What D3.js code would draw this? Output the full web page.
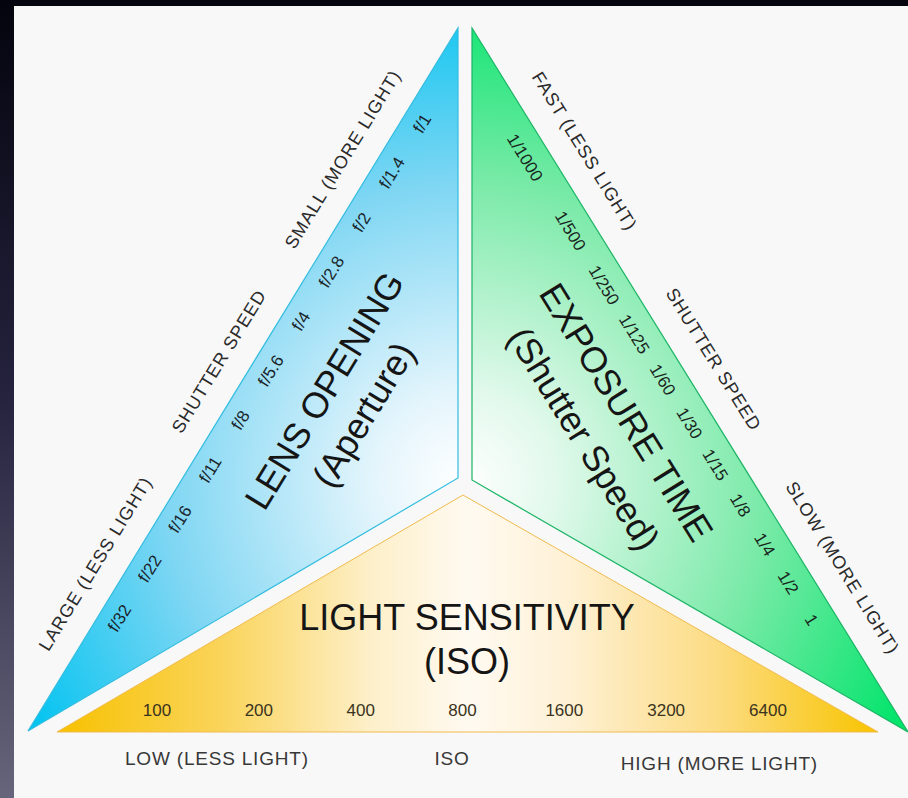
<!DOCTYPE html>
<html>
<head>
<meta charset="utf-8">
<script src="https://cdn.jsdelivr.net/npm/d3@7"></script>
<style>
  html, body { margin: 0; padding: 0; background: #000; }
  .chart { width: 908px; height: 798px; }
  text { font-family: "Liberation Sans", Arial, sans-serif; }
</style>
</head>
<body>
<div class="chart"></div>
<script>
//the three scales of the triangle
const apertureStops = ["f/32", "f/22", "f/16", "f/11", "f/8", "f/5.6", "f/4", "f/2.8", "f/2", "f/1.4", "f/1"];
const shutterStops = ["1/1000", "1/500", "1/250", "1/125", "1/60", "1/30", "1/15", "1/8", "1/4", "1/2", "1"];
const isoStops = ["100", "200", "400", "800", "1600", "3200", "6400"];

//labels that run along the outside of each side
const apertureEdge = ["LARGE (LESS LIGHT)", "SHUTTER SPEED", "SMALL (MORE LIGHT)"];
const shutterEdge = ["FAST (LESS LIGHT)", "SHUTTER SPEED", "SLOW (MORE LIGHT)"];
const isoEdge = ["LOW (LESS LIGHT)", "ISO", "HIGH (MORE LIGHT)"];

//big titles, two lines each
const apertureTitle = ["LENS OPENING", "(Aperture)"];
const shutterTitle = ["EXPOSURE TIME", "(Shutter Speed)"];
const isoTitle = ["LIGHT SENSITIVITY", "(ISO)"];


let chart = {};

init();

function init() {
    setDimensions();
    setScales();
    appendElements();
}


function setDimensions() {
    chart.width = 908;
    chart.height = 798;

    //corners of the three pieces (layout only)
    chart.geom = {
        blue: [[28, 731], [458, 28], [458, 478]],
        green: [[472, 28], [908, 732], [472, 480]],
        yellow: [[57, 732], [463, 495], [878, 732]],
        center: [464, 482]
    };

    //the outer edges we write text along
    chart.blueEdge = edge([28, 731], [458, 28]);
    chart.greenEdge = edge([472, 28], [908, 732]);
}

//unit vector, outward normal and angle for a side
function edge(a, b) {
    let dx = b[0] - a[0], dy = b[1] - a[1];
    let len = Math.hypot(dx, dy);
    let u = [dx / len, dy / len];
    return {
        a: a,
        u: u,
        n: [u[1], -u[0]],
        angle: Math.atan2(dy, dx) * 180 / Math.PI
    };
}

//position s px along the side and d px outward (negative = inside)
function along(e, s, d) {
    return [e.a[0] + e.u[0] * s + e.n[0] * d, e.a[1] + e.u[1] * s + e.n[1] * d];
}


function setScales() {
    chart.apertureScale = d3.scaleLinear()
        .domain([0, apertureStops.length - 1])
        .range([144, 724]);

    //shutter stops bunch up toward the slow end
    chart.shutterScale = d3.scalePow().exponent(0.8)
        .domain([0, shutterStops.length - 1])
        .range([138, 682]);

    chart.isoScale = d3.scalePoint()
        .domain(isoStops)
        .range([157, 768]);

    chart.apertureEdgeScale = d3.scalePoint().domain(apertureEdge).range([178, 652]);
    chart.shutterEdgeScale = d3.scalePoint().domain(shutterEdge).range([164, 654]);
}


function appendElements() {

    chart.svg = d3.select(".chart").append("svg")
        .attr("width", chart.width)
        .attr("height", chart.height);

    let defs = chart.svg.append("defs");

    let side = defs.append("linearGradient")
        .attr("id", "side")
        .attr("x1", 0).attr("y1", 0).attr("x2", 0).attr("y2", 1);
    side.append("stop").attr("offset", 0).attr("stop-color", "#04040e");
    side.append("stop").attr("offset", 0.5).attr("stop-color", "#25233e");
    side.append("stop").attr("offset", 1).attr("stop-color", "#67657b");

    radial(defs, "blueFill", [["0", "#ffffff"], ["0.18", "#e4f5fc"], ["0.6", "#7ed6f3"], ["1", "#00c3f0"]]);
    radial(defs, "greenFill", [["0", "#ffffff"], ["0.18", "#e2f9ec"], ["0.6", "#7aeaa8"], ["1", "#00e46a"]]);

    let yellow = defs.append("linearGradient")
        .attr("id", "yellowFill")
        .attr("gradientUnits", "userSpaceOnUse")
        .attr("x1", 57).attr("y1", 0).attr("x2", 878).attr("y2", 0);
    [["0", "#f7c100"], ["0.2", "#fad45a"], ["0.38", "#fdefc8"], ["0.5", "#fffaf1"],
     ["0.62", "#fef1d6"], ["0.8", "#fcdc84"], ["1", "#f8c400"]].forEach(s => {
        yellow.append("stop").attr("offset", s[0]).attr("stop-color", s[1]);
    });

    //dark frame from the slide behind
    chart.svg.append("rect")
        .attr("width", chart.width).attr("height", chart.height)
        .attr("fill", "#05050f");
    chart.svg.append("rect")
        .attr("width", 14).attr("height", chart.height)
        .attr("fill", "url(#side)");
    chart.svg.append("rect")
        .attr("x", 14).attr("y", 6)
        .attr("width", chart.width - 14).attr("height", chart.height - 6)
        .attr("fill", "#f8f8f8");

    chart.plot = chart.svg.append("g").attr("class", "chart-g");

    let line = d3.line();

    chart.plot.append("path")
        .attr("d", line(chart.geom.blue) + "Z")
        .attr("fill", "url(#blueFill)")
        .attr("stroke", "#33bde0")
        .attr("stroke-width", 1.2);

    chart.plot.append("path")
        .attr("d", line(chart.geom.green) + "Z")
        .attr("fill", "url(#greenFill)")
        .attr("stroke", "#1cb566")
        .attr("stroke-width", 1.2);

    chart.plot.append("path")
        .attr("d", line(chart.geom.yellow) + "Z")
        .attr("fill", "url(#yellowFill)")
        .attr("stroke", "#f1bb4e")
        .attr("stroke-width", 1);

    //---- aperture side
    sideText(chart.blueEdge, apertureStops, (d, i) => chart.apertureScale(i), -19, 17, "#1a252b", 0);
    sideText(chart.blueEdge, apertureEdge, d => chart.apertureEdgeScale(d), 30, 18, "#2a2a2a", 1);
    sideText(chart.blueEdge, apertureTitle, d => 445, (d, i) => i ? -121 : -75, 36, "#151515", 0);

    //---- shutter side
    sideText(chart.greenEdge, shutterStops, (d, i) => chart.shutterScale(i), -23, 17, "#18251d", 0);
    sideText(chart.greenEdge, shutterEdge, d => chart.shutterEdgeScale(d), 31, 18, "#2a2a2a", 1);
    sideText(chart.greenEdge, shutterTitle, d => 408, (d, i) => i ? -121 : -71, 36, "#151515", 0);

    //---- iso along the bottom
    chart.plot.selectAll("text.iso-tick")
        .data(isoStops).enter()
        .append("text")
        .attr("class", "iso-tick")
        .attr("x", d => chart.isoScale(d))
        .attr("y", 716)
        .attr("text-anchor", "middle")
        .attr("font-size", 17)
        .attr("fill", "#3a3320")
        .text(d => d);

    chart.plot.selectAll("text.iso-title")
        .data(isoTitle).enter()
        .append("text")
        .attr("class", "iso-title")
        .attr("x", 467)
        .attr("y", (d, i) => i ? 674 : 630)
        .attr("text-anchor", "middle")
        .attr("font-size", 36)
        .attr("fill", "#151515")
        .text(d => d);

    let bottomX = [125, 452, 818];
    let bottomAnchor = ["start", "middle", "end"];
    chart.plot.selectAll("text.iso-edge")
        .data(isoEdge).enter()
        .append("text")
        .attr("class", "iso-edge")
        .attr("x", (d, i) => bottomX[i])
        .attr("y", (d, i) => i == 2 ? 770 : 765)
        .attr("text-anchor", (d, i) => bottomAnchor[i])
        .attr("font-size", 19)
        .attr("letter-spacing", 0.8)
        .attr("fill", "#383838")
        .text(d => d);
}


function radial(defs, id, stops) {
    let g = defs.append("radialGradient")
        .attr("id", id)
        .attr("gradientUnits", "userSpaceOnUse")
        .attr("cx", chart.geom.center[0])
        .attr("cy", chart.geom.center[1])
        .attr("r", 500);
    stops.forEach(s => {
        g.append("stop").attr("offset", s[0]).attr("stop-color", s[1]);
    });
}


//text rotated to run along a side of the triangle
function sideText(e, data, s, d, size, color, spacing) {
    let dist = typeof d === "function" ? d : () => d;
    chart.plot.append("g")
        .selectAll("text")
        .data(data).enter()
        .append("text")
        .attr("transform", (v, i) => {
            let p = along(e, s(v, i), dist(v, i));
            return `translate(${p[0]},${p[1]}) rotate(${e.angle})`;
        })
        .attr("text-anchor", "middle")
        .attr("dy", "0.35em")
        .attr("font-size", size)
        .attr("letter-spacing", spacing)
        .attr("fill", color)
        .text(v => v);
}
</script>
</body>
</html>
